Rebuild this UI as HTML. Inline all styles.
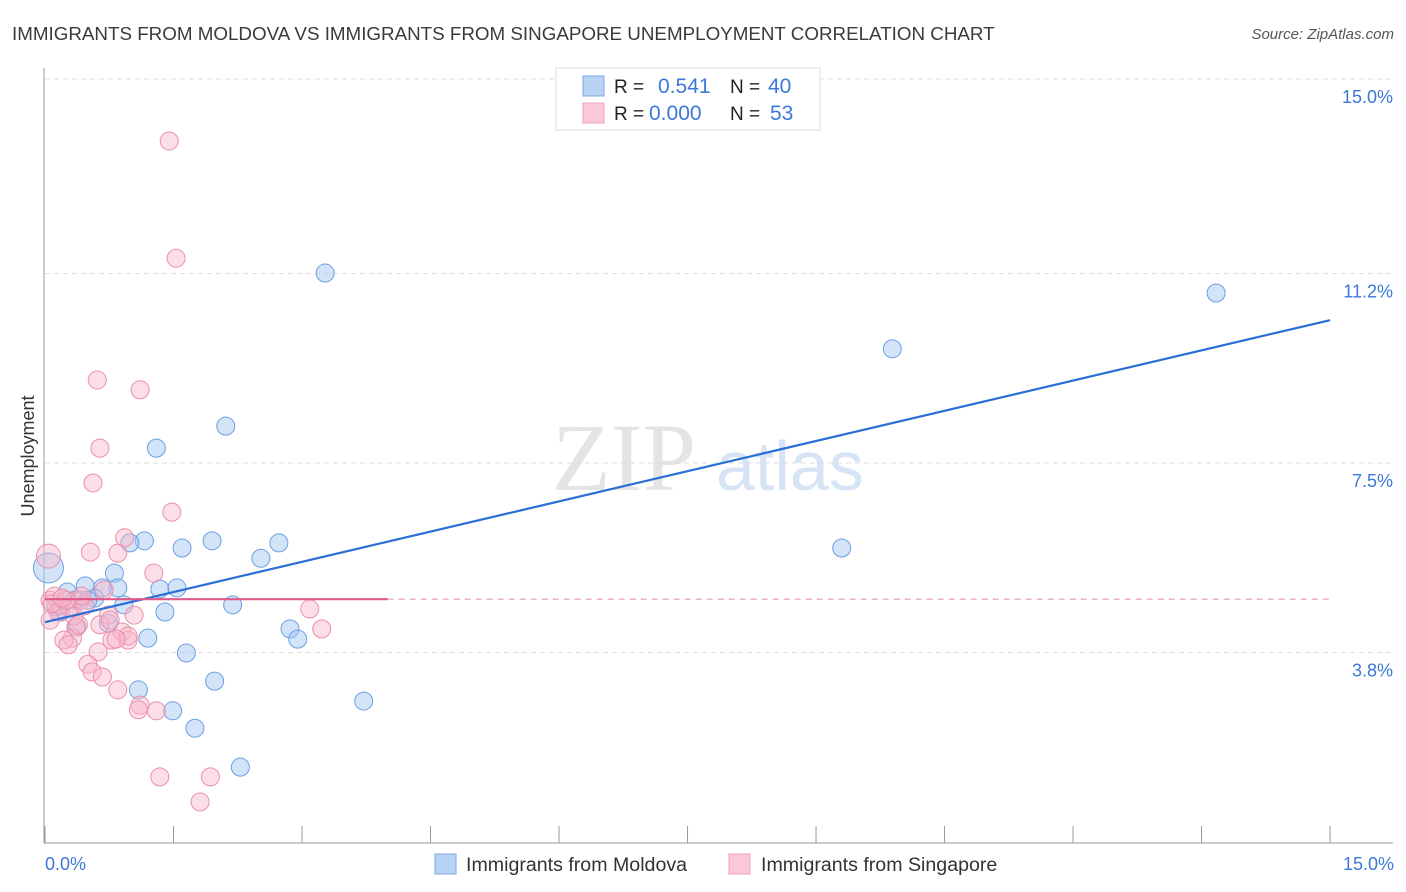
<!DOCTYPE html>
<html><head><meta charset="utf-8"><style>
body{margin:0;background:#fff;font-family:"Liberation Sans",sans-serif;}
svg{display:block}
</style></head><body>
<svg id="c" width="1406" height="892">
<text x="12" y="40" font-size="18.8" fill="#3a3a3a">IMMIGRANTS FROM MOLDOVA VS IMMIGRANTS FROM SINGAPORE UNEMPLOYMENT CORRELATION CHART</text>
<text x="1394" y="39" font-size="15" fill="#555" font-style="italic" text-anchor="end">Source: ZipAtlas.com</text>
<g><text x="552" y="490" font-size="96" font-family="Liberation Serif,serif" fill="#e4e4e4">ZIP</text><text x="716" y="490" font-size="70" fill="#d6e4f5">atlas</text></g>
<g id="grid"></g><g id="axes"></g><g id="marks"></g>
<text transform="translate(34,456) rotate(-90)" font-size="18" fill="#333" text-anchor="middle">Unemployment</text>
<text x="45" y="870" font-size="18" fill="#3c78d8">0.0%</text>
<text x="1394" y="870" font-size="18" fill="#3c78d8" text-anchor="end">15.0%</text>
<g>
<rect x="556" y="68" width="264" height="62" fill="#fff" stroke="#ddd"/>
<rect x="583" y="76" width="21" height="20" fill="#b9d3f5" stroke="#7aa7e6"/>
<rect x="583" y="103" width="21" height="20" fill="#fbc8d7" stroke="#eea2ba"/>
<text x="614" y="93" font-size="19" fill="#222">R = </text><text x="658" y="93" font-size="21" fill="#3c78d8">0.541</text>
<text x="730" y="93" font-size="19" fill="#222">N = </text><text x="768" y="93" font-size="21" fill="#3c78d8">40</text>
<text x="614" y="120" font-size="19" fill="#222">R = </text><text x="649" y="120" font-size="21" fill="#3c78d8">0.000</text>
<text x="730" y="120" font-size="19" fill="#222">N = </text><text x="770" y="120" font-size="21" fill="#3c78d8">53</text>
</g>
<g><rect x="435" y="854" width="21" height="20" fill="#b9d3f5" stroke="#7aa7e6"/><text x="466" y="871" font-size="19.6" fill="#333">Immigrants from Moldova</text></g>
<g><rect x="729" y="854" width="21" height="20" fill="#fbc8d7" stroke="#eea2ba"/><text x="761" y="871" font-size="19.6" fill="#333">Immigrants from Singapore</text></g>
</svg>
<script>
const yTicks=[15.0,11.2,7.5,3.8];
const yTickLabels=["15.0%","11.2%","7.5%","3.8%"];
const xTicks=[0,1.5,3,4.5,6,7.5,9,10.5,12,13.5,15];
const moldovaX=[3.27,13.67,9.89,2.11,1.30,9.30,1.16,1.60,1.95,2.73,2.52,0.99,0.81,0.47,0.85,1.34,1.54,0.67,0.26,0.58,0.35,0.92,2.19,1.40,0.13,2.86,2.95,1.20,0.74,1.65,1.98,1.09,1.49,3.72,1.75,2.28,0.04,0.18,0.50,0.37];
const moldovaY=[11.21,10.82,9.73,8.22,7.79,5.84,5.98,5.84,5.98,5.94,5.64,5.94,5.35,5.10,5.06,5.04,5.06,5.06,4.98,4.86,4.82,4.73,4.73,4.59,4.69,4.26,4.06,4.08,4.37,3.79,3.24,3.07,2.66,2.85,2.32,1.56,5.45,4.59,4.82,4.30];
const singX=[1.45,1.53,0.61,1.11,0.64,0.56,1.48,0.93,0.53,0.85,1.27,0.04,0.06,0.18,0.29,0.41,0.74,1.04,3.09,3.23,0.36,0.64,0.32,0.22,0.27,0.78,0.90,0.97,0.62,0.50,0.55,0.67,0.85,1.11,1.30,1.09,1.34,1.93,1.81,0.11,0.15,0.34,0.46,0.06,0.43,0.25,0.69,0.76,0.97,0.83,0.39,0.08,0.20];
const singY=[13.79,11.50,9.12,8.93,7.79,7.11,6.54,6.04,5.76,5.74,5.35,5.68,4.82,4.73,4.67,4.82,4.53,4.53,4.65,4.26,4.30,4.34,4.08,4.04,3.95,4.04,4.20,4.04,3.81,3.57,3.42,3.32,3.07,2.77,2.66,2.68,1.37,1.37,0.88,4.90,4.59,4.51,4.71,4.43,4.90,4.82,5.02,4.43,4.12,4.06,4.34,4.75,4.86];
const moldovaTrend=[4.39,10.29];
const singTrend=4.84, singSolidEnd=4.0;
const sx=v=>45+v*85.67, sy=v=>79+(15-v)*51.2;
const NS="http://www.w3.org/2000/svg";
function mk(p,t,a){const e=document.createElementNS(NS,t);for(const k in a)e.setAttribute(k,a[k]);p.appendChild(e);return e;}
const grid=document.getElementById('grid'),axes=document.getElementById('axes'),marks=document.getElementById('marks');
yTicks.forEach((v,i)=>{
 const l=mk(grid,'line',{x1:45,x2:1393,y1:sy(v),y2:sy(v),stroke:'#ddd','stroke-dasharray':'5,4'});
 
 
 const t=mk(grid,'text',{x:1393,y:sy(v)+24,'font-size':18,fill:'#3c78d8','text-anchor':'end'});t.textContent=yTickLabels[i];
 
 
});
const ya=mk(axes,'line',{x1:44,x2:44,y1:68,y2:843,stroke:'#999'});


const xa=mk(axes,'line',{x1:44,x2:1393,y1:843,y2:843,stroke:'#999'});


xTicks.forEach(v=>{const t=mk(axes,'line',{x1:sx(v),x2:sx(v),y1:826,y2:843,stroke:'#999'});
 
 });
moldovaX.forEach((x,i)=>{const big=i==36;const c=mk(marks,'circle',{cx:sx(x),cy:sy(moldovaY[i]),r:big?15:9,fill:'rgba(168,200,242,0.5)',stroke:'#6b9fe3','stroke-width':1});
 
 });
singX.forEach((x,i)=>{const big=i==11;const c=mk(marks,'circle',{cx:sx(x),cy:sy(singY[i]),r:big?12:9,fill:'rgba(248,182,202,0.45)',stroke:'#ec8fac','stroke-width':1});
 
 });
const bt=mk(marks,'line',{x1:sx(0),y1:sy(moldovaTrend[0]),x2:sx(15),y2:sy(moldovaTrend[1]),stroke:'#2a6fd6','stroke-width':2.2});


const pt=mk(marks,'line',{x1:sx(0),y1:sy(singTrend),x2:sx(singSolidEnd),y2:sy(singTrend),stroke:'#e0588a','stroke-width':2.2});


const pd=mk(marks,'line',{x1:sx(singSolidEnd),y1:sy(singTrend),x2:sx(15),y2:sy(singTrend),stroke:'#e995b2','stroke-width':1.2,'stroke-dasharray':'6,5'});


</script>
</body></html>
